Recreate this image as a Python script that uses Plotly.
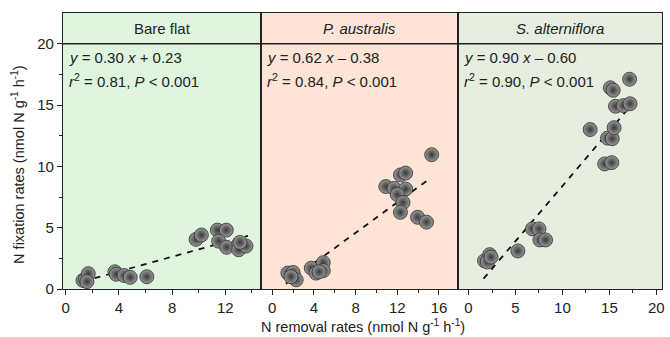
import plotly.graph_objects as go

# ---- data ----
bare_x = [1.3, 1.5, 1.7, 1.6, 3.7, 3.8, 4.4, 4.85, 6.1, 9.8, 10.2, 11.4, 12.07, 11.5, 12.1, 13.0, 13.0, 13.55, 13.1]
bare_y = [0.7, 0.8, 1.25, 0.6, 1.4, 1.2, 1.1, 0.95, 1.0, 4.05, 4.4, 4.8, 4.8, 3.9, 3.4, 3.65, 3.2, 3.5, 3.8]

pa_x = [1.5, 2.0, 2.3, 1.8, 3.75, 4.2, 4.9, 4.9, 4.5, 10.9, 11.7, 12.3, 12.8, 12.8, 12.0, 12.55, 12.3, 13.95, 14.8, 15.3]
pa_y = [1.3, 1.35, 0.75, 1.0, 1.7, 1.3, 2.15, 1.5, 1.4, 8.35, 8.2, 9.3, 9.45, 8.15, 7.7, 7.05, 6.25, 5.85, 5.45, 10.95]

sa_x = [1.7, 2.25, 2.0, 2.4, 5.25, 6.8, 7.5, 7.6, 8.2, 12.95, 14.5, 15.25, 14.8, 15.3, 15.5, 15.1, 15.4, 15.65, 16.5, 17.2, 17.15]
sa_y = [2.3, 2.8, 2.2, 2.6, 3.1, 4.9, 4.9, 4.0, 4.0, 13.0, 10.2, 10.3, 12.3, 12.25, 13.15, 16.4, 16.2, 14.9, 14.95, 15.1, 17.1]

panel_names = ["Bare flat", "<i>P. australis</i>", "<i>S. alterniflora</i>"]
fit_slope = [0.30, 0.62, 0.90]
fit_icpt = [0.23, -0.38, -0.60]
fit_xrange = [[1.3, 13.7], [1.3, 14.9], [1.6, 17.2]]
eq_text = ["<i>y</i> = 0.30 <i>x</i> + 0.23", "<i>y</i> = 0.62 <i>x</i> – 0.38", "<i>y</i> = 0.90 <i>x</i> – 0.60"]
stat_text = ["<i>r</i><sup>2</sup> = 0.81, <i>P</i> < 0.001",
             "<i>r</i><sup>2</sup> = 0.84, <i>P</i> < 0.001",
             "<i>r</i><sup>2</sup> = 0.90, <i>P</i> < 0.001"]
bg_colors = ["#e0f5de", "#fde4d6", "#e6efdf"]
x_ranges = [[-0.2, 14.7], [-1.05, 17.8], [-1.15, 20.6]]
x_ticks = [[0, 4, 8, 12], [0, 4, 8, 12, 16], [0, 5, 10, 15, 20]]
x_minor = [2, 2, 2.5]
y_ticks = [0, 5, 10, 15, 20]

data_x = [bare_x, pa_x, sa_x]
data_y = [bare_y, pa_y, sa_y]

domains = [[0, 0.331], [0.331, 0.659], [0.659, 1.0]]
font = "Liberation Sans, Arial, sans-serif"
axcol = "#222222"

fig = go.Figure()
layout = dict(
    width=670, height=337,
    margin=dict(l=63, r=5, t=13, b=48),
    paper_bgcolor="white", plot_bgcolor="rgba(0,0,0,0)",
    showlegend=False,
    font=dict(family=font, size=15, color=axcol),
    shapes=[], annotations=[],
)

for i in range(3):
    xa = "x" if i == 0 else f"x{i+1}"
    ya = "y" if i == 0 else f"y{i+1}"
    x0, x1 = fit_xrange[i]
    fig.add_trace(go.Scatter(
        x=[x0, x1], y=[fit_slope[i] * x0 + fit_icpt[i], fit_slope[i] * x1 + fit_icpt[i]],
        mode="lines", line=dict(color="#111111", width=1.8, dash="6px,6px"),
        xaxis=xa, yaxis=ya, hoverinfo="skip"))
    fig.add_trace(go.Scatter(
        x=data_x[i], y=data_y[i], mode="markers",
        marker=dict(size=14, color="#9a9a9a",
                    gradient=dict(type="radial", color="#383838"),
                    line=dict(color="#2e2e2e", width=0.8)),
        xaxis=xa, yaxis=ya))

    xkey = "xaxis" if i == 0 else f"xaxis{i+1}"
    ykey = "yaxis" if i == 0 else f"yaxis{i+1}"
    layout[xkey] = dict(
        domain=domains[i], range=x_ranges[i], anchor=ya,
        tickvals=x_ticks[i], ticks="outside", ticklen=5, tickwidth=1.2, tickcolor=axcol,
        minor=dict(dtick=x_minor[i], tick0=0, ticks="outside", ticklen=3, tickcolor=axcol, tickwidth=1.2),
        showline=True, linecolor=axcol, linewidth=1.3, mirror=True,
        showgrid=False, zeroline=False,
        tickfont=dict(size=15, color=axcol, family=font),
    )
    ydict = dict(
        domain=[0, 1], range=[0, 22.5], anchor=xa,
        showline=True, linecolor=axcol, linewidth=1.3, mirror=True,
        showgrid=False, zeroline=False,
    )
    if i == 0:
        ydict.update(tickvals=y_ticks, ticks="outside", ticklen=5, tickwidth=1.2, tickcolor=axcol,
                     minor=dict(tickvals=[2.5, 7.5, 12.5, 17.5], ticks="outside", ticklen=3,
                                tickcolor=axcol, tickwidth=1.2),
                     tickfont=dict(size=15, color=axcol, family=font))
    else:
        ydict.update(matches="y", showticklabels=False, ticks="")
    layout[ykey] = ydict

    layout["shapes"].append(dict(type="rect", xref=f"{xa} domain", yref=f"{ya} domain",
                                 x0=0, x1=1, y0=0, y1=1, fillcolor=bg_colors[i],
                                 line=dict(width=0), layer="below"))
    layout["shapes"].append(dict(type="line", xref=f"{xa} domain", yref=ya,
                                 x0=0, x1=1, y0=20, y1=20,
                                 line=dict(color=axcol, width=1.5)))
    layout["annotations"].append(dict(text=panel_names[i], xref=f"{xa} domain", yref=ya,
                                      x=0.5, y=21.25, showarrow=False,
                                      font=dict(size=15, color=axcol, family=font)))
    layout["annotations"].append(dict(text=eq_text[i], xref=f"{xa} domain", yref="paper",
                                      x=0.02, y=0.838, xanchor="left", yanchor="middle",
                                      showarrow=False, font=dict(size=15, color=axcol, family=font)))
    layout["annotations"].append(dict(text=stat_text[i], xref=f"{xa} domain", yref="paper",
                                      x=0.02, y=0.755, xanchor="left", yanchor="middle",
                                      showarrow=False, font=dict(size=15, color=axcol, family=font)))

layout["annotations"].append(dict(
    text="N removal rates (nmol N g<sup>-1</sup> h<sup>-1</sup>)", xref="paper", yref="paper",
    x=0.5, y=-0.095, xanchor="center", yanchor="top", showarrow=False,
    font=dict(size=14.5, color=axcol, family=font)))
layout["annotations"].append(dict(
    text="N fixation rates (nmol N g<sup>-1</sup> h<sup>-1</sup>)", xref="paper", yref="paper",
    x=-0.075, y=0.45, xanchor="center", yanchor="middle", textangle=-90, showarrow=False,
    font=dict(size=14.5, color=axcol, family=font)))

fig.update_layout(**layout)
fig.write_html("out.html", config={"displayModeBar": False},
               post_script="document.body.style.margin='0';document.body.style.overflow='hidden';")
